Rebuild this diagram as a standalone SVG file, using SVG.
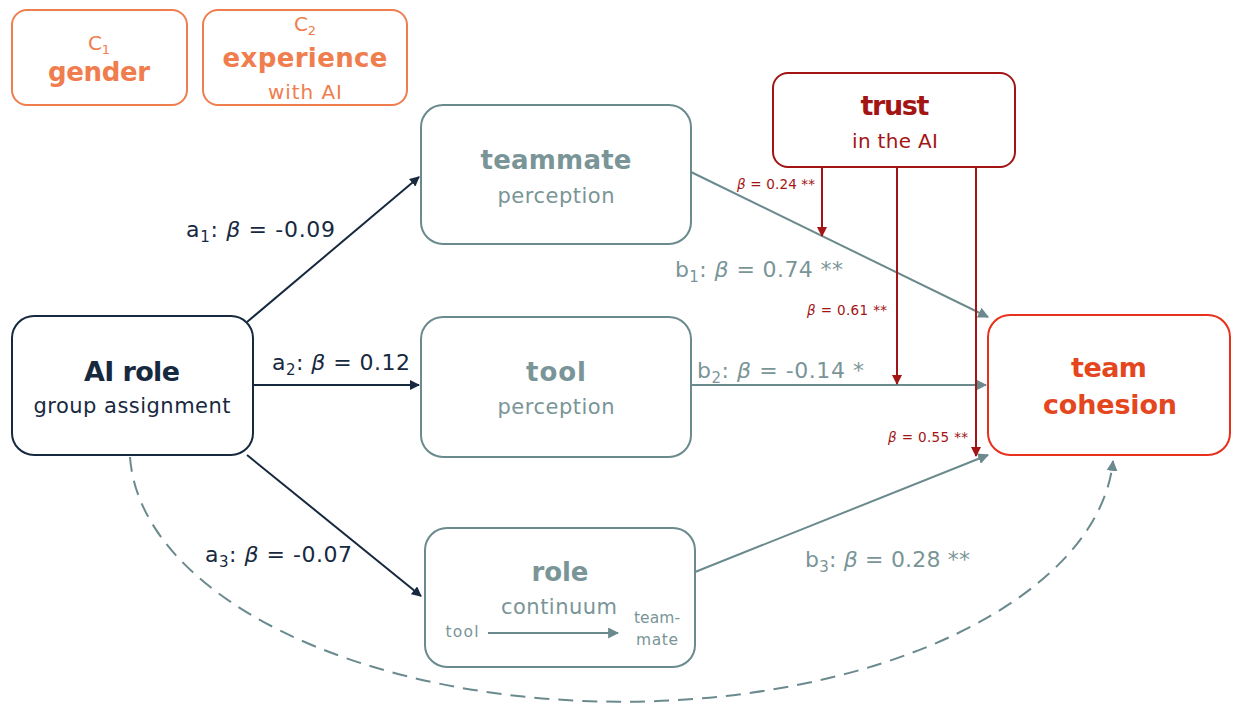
<svg xmlns="http://www.w3.org/2000/svg" width="1240" height="717" viewBox="0 0 1240 717">
<defs>
<style>
text{font-family:"DejaVu Sans","Liberation Sans",sans-serif;text-anchor:middle}
.box{fill:#fff;stroke-width:2}
.org{stroke:#F07D4E}.orgt{fill:#F07D4E}
.gry{stroke:#6B8A8E}.gryt{fill:#7A9597}
.nav{stroke:#17293F}.navt{fill:#17293F}
.red{stroke:#E8301C}.redt{fill:#E4461E}
.drd{stroke:#A31515}.drdt{fill:#A31515}
.b{font-weight:bold}
.lab{font-size:22px;text-anchor:start}
.sm{font-size:13.5px;text-anchor:start}
.it{font-style:italic}
.cn{fill:none;stroke-width:2}
</style>
<marker id="mn" viewBox="0 0 10 10" refX="9" refY="5" markerWidth="5" markerHeight="5" orient="auto"><path d="M0,0L10,5L0,10z" fill="#17293F"/></marker>
<marker id="mg" viewBox="0 0 10 10" refX="9" refY="5" markerWidth="5.5" markerHeight="5.5" orient="auto"><path d="M0,0L10,5L0,10z" fill="#6B8A8E"/></marker>
<marker id="mr" viewBox="0 0 10 10" refX="9" refY="5" markerWidth="5" markerHeight="5" orient="auto"><path d="M0,0L10,5L0,10z" fill="#A31515"/></marker>
</defs>
<rect width="1240" height="717" fill="#fff"/>

<g id="connectors">
<path class="cn nav" d="M247,322L419,177" marker-end="url(#mn)"/>
<path class="cn nav" d="M253,385L419,385" marker-end="url(#mn)"/>
<path class="cn nav" d="M247,455L421,596" marker-end="url(#mn)"/>
<path class="cn gry" d="M691,172L988,317" marker-end="url(#mg)"/>
<path class="cn gry" d="M691,385L986,385" marker-end="url(#mg)"/>
<path class="cn gry" d="M695,572L988,455" marker-end="url(#mg)"/>
<path class="cn gry" d="M130,457A492 254 0 0 0 1113,461" stroke-dasharray="15 9" marker-end="url(#mg)"/>
<path class="cn drd" d="M822,167L822,236" marker-end="url(#mr)"/>
<path class="cn drd" d="M897,167L897,384" marker-end="url(#mr)"/>
<path class="cn drd" d="M976,167L976,456" marker-end="url(#mr)"/>
</g>

<g id="labels">
<text class="lab navt" x="186" y="237" textLength="149">a<tspan font-size="15" dy="5">1</tspan><tspan dy="-5">: </tspan><tspan class="it">β</tspan> = -0.09</text>
<text class="lab navt" x="272" y="370" textLength="138">a<tspan font-size="15" dy="5">2</tspan><tspan dy="-5">: </tspan><tspan class="it">β</tspan> = 0.12</text>
<text class="lab navt" x="205" y="562" textLength="147">a<tspan font-size="15" dy="5">3</tspan><tspan dy="-5">: </tspan><tspan class="it">β</tspan> = -0.07</text>
<text class="lab gryt" x="675" y="277" textLength="168">b<tspan font-size="15" dy="5">1</tspan><tspan dy="-5">: </tspan><tspan class="it">β</tspan> = 0.74 **</text>
<text class="lab gryt" x="697" y="378" textLength="167">b<tspan font-size="15" dy="5">2</tspan><tspan dy="-5">: </tspan><tspan class="it">β</tspan> = -0.14 *</text>
<text class="lab gryt" x="805" y="567" textLength="165">b<tspan font-size="15" dy="5">3</tspan><tspan dy="-5">: </tspan><tspan class="it">β</tspan> = 0.28 **</text>
<text class="sm drdt" x="737" y="189" textLength="78"><tspan class="it">β</tspan> = 0.24 **</text>
<text class="sm drdt" x="807" y="315" textLength="80"><tspan class="it">β</tspan> = 0.61 **</text>
<text class="sm drdt" x="888" y="442" textLength="80"><tspan class="it">β</tspan> = 0.55 **</text>
</g>

<g id="c1">
<rect class="box org" x="12" y="10" width="175" height="95" rx="15"/>
<text class="orgt" x="99" y="50" font-size="20">C<tspan font-size="13" dy="4">1</tspan></text>
<text class="orgt b" x="99" y="81" font-size="26" textLength="102">gender</text>
</g>
<g id="c2">
<rect class="box org" x="203" y="10" width="204" height="95" rx="15"/>
<text class="orgt" x="305" y="31" font-size="20">C<tspan font-size="13" dy="4">2</tspan></text>
<text class="orgt b" x="305" y="67" font-size="26" textLength="165">experience</text>
<text class="orgt" x="305" y="99" font-size="20" textLength="74">with AI</text>
</g>
<g id="teammate">
<rect class="box gry" x="421" y="105" width="270" height="139" rx="22"/>
<text class="gryt b" x="556" y="169" font-size="26" textLength="151">teammate</text>
<text class="gryt" x="556" y="203" font-size="21" textLength="117">perception</text>
</g>
<g id="tool">
<rect class="box gry" x="421" y="317" width="270" height="140" rx="22"/>
<text class="gryt b" x="556" y="381" font-size="26" textLength="60">tool</text>
<text class="gryt" x="556" y="414" font-size="21" textLength="117">perception</text>
</g>
<g id="role">
<rect class="box gry" x="425" y="528" width="270" height="139" rx="22"/>
<text class="gryt b" x="560" y="581" font-size="26" textLength="57">role</text>
<text class="gryt" x="559" y="614" font-size="21" textLength="116">continuum</text>
<text class="gryt" x="462" y="637" font-size="15.5" textLength="33">tool</text>
<path class="cn gry" d="M488,633L618,633" stroke-width="2.5" marker-end="url(#mg)"/>
<text class="gryt" x="657" y="623" font-size="15.5" textLength="46">team-</text>
<text class="gryt" x="657" y="645" font-size="15.5" textLength="42">mate</text>
</g>
<g id="airole">
<rect class="box nav" x="12" y="316" width="241" height="139" rx="22"/>
<text class="navt b" x="132" y="381" font-size="27" textLength="96">AI role</text>
<text class="navt" x="132" y="413" font-size="21" textLength="197">group assignment</text>
</g>
<g id="teamcohesion">
<rect class="box red" x="988" y="315" width="242" height="140" rx="22"/>
<text class="redt b" x="1109" y="377" font-size="27" textLength="76">team</text>
<text class="redt b" x="1110" y="414" font-size="27" textLength="134">cohesion</text>
</g>
<g id="trust">
<rect class="box drd" x="773" y="73" width="242" height="94" rx="15"/>
<text class="drdt b" x="895" y="115" font-size="27" textLength="69">trust</text>
<text class="drdt" x="895" y="148" font-size="20" textLength="86">in the AI</text>
</g>
</svg>
